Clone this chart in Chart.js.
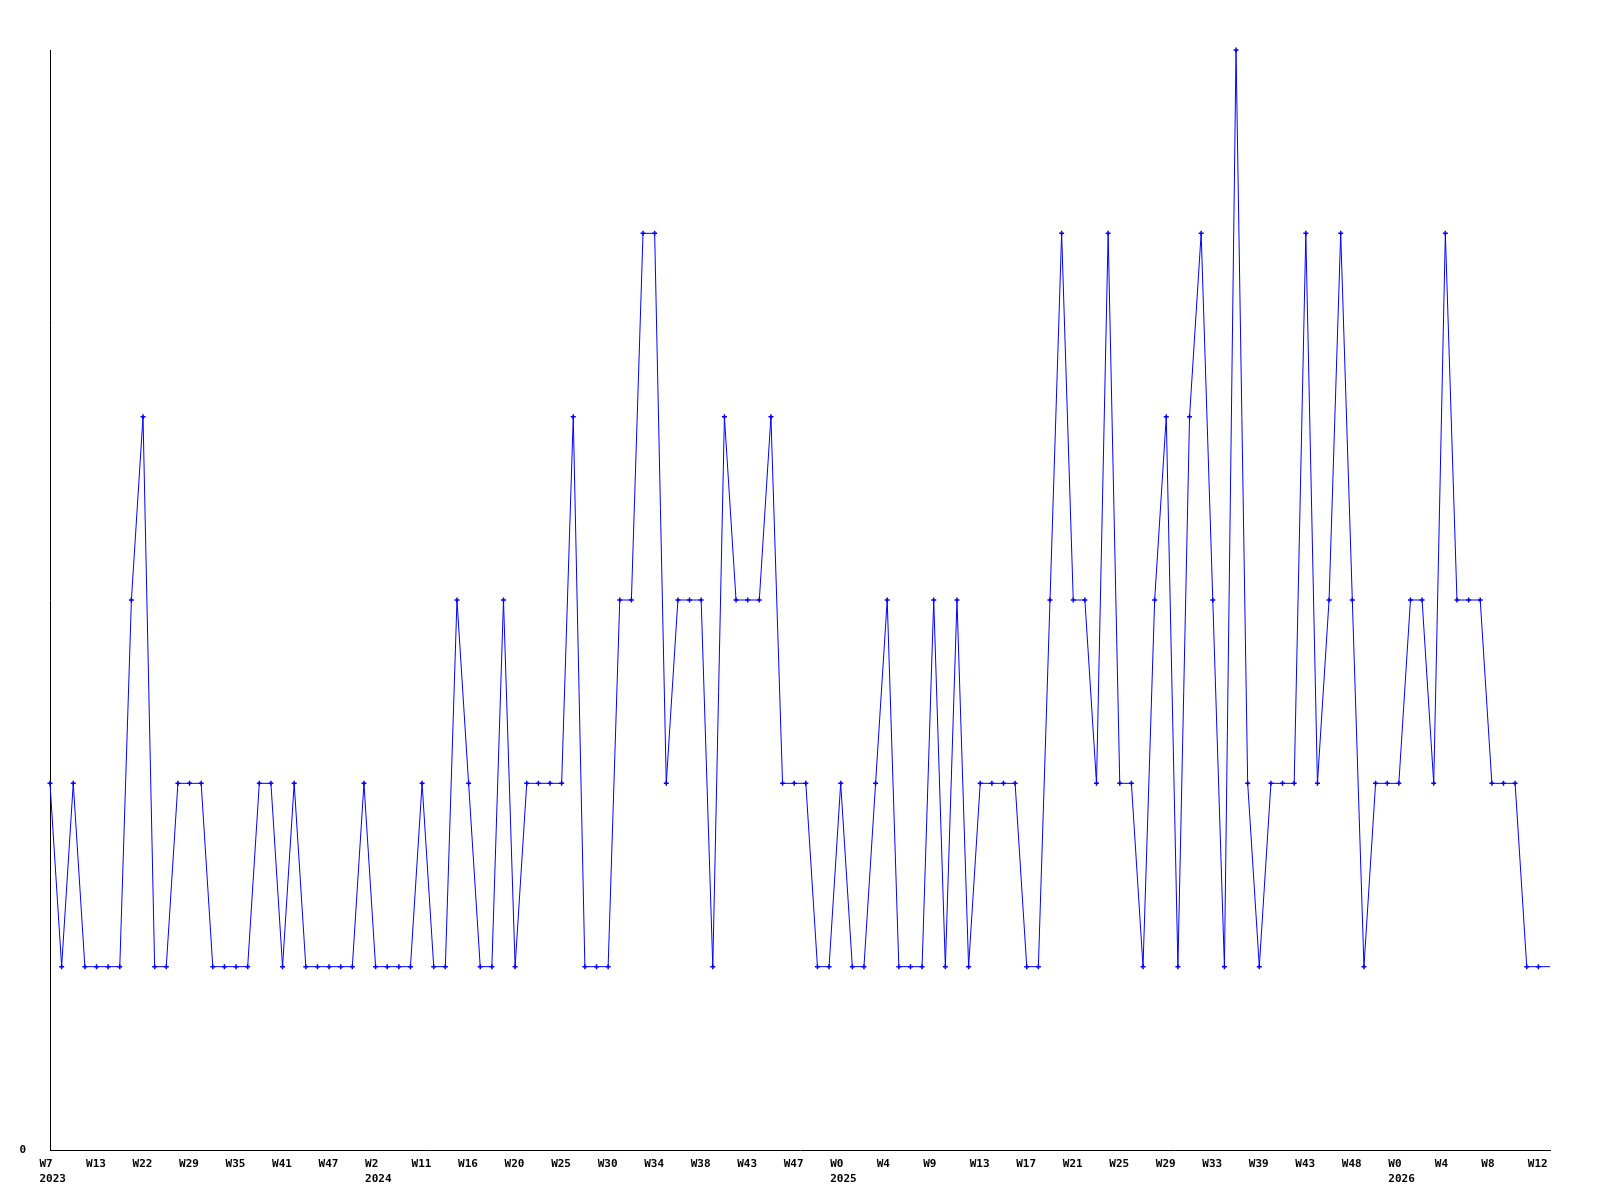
<!DOCTYPE html>
<html>
<head>
<meta charset="utf-8">
<script src="https://cdn.jsdelivr.net/npm/chart.js@4"></script>
<style>
  html, body { margin: 0; padding: 0; background: #fff; }
  #wrap { width: 1600px; height: 1200px; }
</style>
</head>
<body>
<div id="wrap"><canvas id="myChart" width="1600" height="1200"></canvas></div>
<script>
// weekly counts, one value per point
var counts = [
    2, 1, 2, 1, 1, 1, 1, 3, 4, 1,
    1, 2, 2, 2, 1, 1, 1, 1, 2, 2,
    1, 2, 1, 1, 1, 1, 1, 2, 1, 1,
    1, 1, 2, 1, 1, 3, 2, 1, 1, 3,
    1, 2, 2, 2, 2, 4, 1, 1, 1, 3,
    3, 5, 5, 2, 3, 3, 3, 1, 4, 3,
    3, 3, 4, 2, 2, 2, 1, 1, 2, 1,
    1, 2, 3, 1, 1, 1, 3, 1, 3, 1,
    2, 2, 2, 2, 1, 1, 3, 5, 3, 3,
    2, 5, 2, 2, 1, 3, 4, 1, 4, 5,
    3, 1, 6, 2, 1, 2, 2, 2, 5, 2,
    3, 5, 3, 1, 2, 2, 2, 3, 3, 2,
    5, 3, 3, 3, 2, 2, 2, 1, 1, 1
];

// tick labels shown on every 4th point
var weekTicks = ["W7", "W13", "W22", "W29", "W35", "W41", "W47", "W2", "W11", "W16", "W20",
    "W25", "W30", "W34", "W38", "W43", "W47", "W0", "W4", "W9", "W13", "W17",
    "W21", "W25", "W29", "W33", "W39", "W43", "W48", "W0", "W4", "W8", "W12"];
var yearTicks = { 0: "2023", 7: "2024", 17: "2025", 29: "2026" };

var tickEvery = 4;

var categories = counts.map(function(v, i) {
    if (i % tickEvery !== 0) return "";
    var t = i / tickEvery;
    if (yearTicks[t]) return [weekTicks[t], yearTicks[t]];
    return weekTicks[t];
});

var tickFont = { family: "'DejaVu Sans Mono', monospace", size: 11, weight: "bold", lineHeight: 1.4 };

var ctx = document.getElementById('myChart').getContext('2d');
var myChart = new Chart(ctx, {
    type: 'line',
    data: {
        labels: categories,
        datasets: [{
            data: counts,
            borderColor: '#0000ff',
            backgroundColor: '#0000ff',
            borderWidth: 1,
            tension: 0,
            pointStyle: 'cross',
            pointRadius: function(c) { return c.dataIndex === counts.length - 1 ? 0 : 2.5; },
            pointBorderWidth: 1.5,
            pointBorderColor: '#0000ff',
            clip: false
        }]
    },
    options: {
        responsive: false,
        animation: false,
        layout: { padding: { top: 50, right: 50, left: 0, bottom: 0 } },
        plugins: {
            legend: { display: false },
            title: { display: false },
            tooltip: { enabled: false }
        },
        scales: {
            x: {
                offset: false,
                grid: { display: false, drawTicks: false },
                border: { display: true, color: '#000', width: 1 },
                ticks: {
                    autoSkip: false,
                    maxRotation: 0,
                    minRotation: 0,
                    align: 'start',
                    labelOffset: -10.5,
                    padding: 6,
                    color: '#000',
                    font: tickFont
                },
                afterFit: function(scale) { scale.height = 50; }
            },
            y: {
                min: 0,
                max: 6,
                grid: { display: false, drawTicks: false },
                border: { display: true, color: '#000', width: 1 },
                ticks: {
                    stepSize: 6,
                    padding: 24,
                    color: '#000',
                    font: tickFont,
                    callback: function(v) { return v === 0 ? '0' : ''; }
                },
                afterFit: function(scale) { scale.width = 50; }
            }
        }
    }
});
</script>
</body>
</html>
